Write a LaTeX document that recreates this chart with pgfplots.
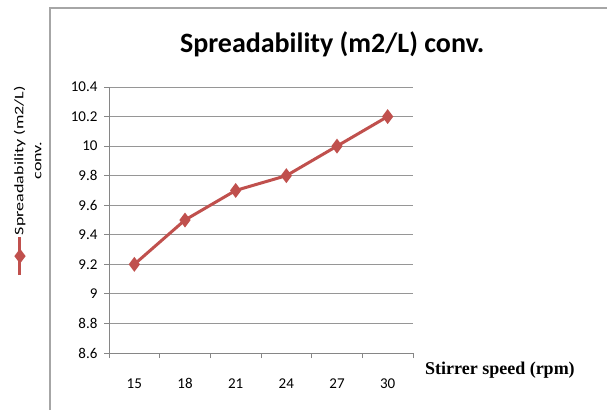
\documentclass[border=0pt]{standalone}
\usepackage{fontspec}
\setmainfont{Carlito}
\newfontfamily\timesfont{Liberation Serif}
\usepackage{pgfplots}
\pgfplotsset{compat=1.18}
\definecolor{serred}{HTML}{C0504D}
\definecolor{gridgray}{HTML}{969696}
\definecolor{axgray}{HTML}{868686}
\definecolor{framegray}{HTML}{A6A6A6}
\begin{document}
\begin{tikzpicture}[x=1pt,y=1pt]
\path[use as bounding box] (0,0) rectangle (607,410);
\draw[framegray, line width=1.5pt] (50,0) -- (50,402) -- (607,402);
\begin{axis}[
  at={(109pt,57pt)}, anchor=south west,
  scale only axis, width=304pt, height=266pt,
  xmin=-0.5, xmax=5.5, ymin=8.6, ymax=10.4,
  axis x line*=bottom, axis y line*=left,
  axis line style={-, axgray, line width=0.9pt},
  xtick={0,1,2,3,4,5},
  xticklabels={15,18,21,24,27,30},
  major x tick style={draw=none},
  minor xtick={-0.5,0.5,1.5,2.5,3.5,4.5,5.5},
  minor x tick style={axgray, line width=0.9pt},
  minor tick length=5pt,
  ytick={8.6,8.8,9,9.2,9.4,9.6,9.8,10,10.2,10.4},
  yticklabels={8.6,8.8,9,9.2,9.4,9.6,9.8,10,10.2,10.4},
  major y tick style={axgray, line width=0.9pt},
  major tick length=5pt,
  tick align=outside,
  ymajorgrids,
  grid style={gridgray, line width=0.9pt},
  ticklabel style={font=\fontsize{15}{17}\selectfont, text=black},
  xticklabel style={yshift=-17pt},
  yticklabel style={xshift=-3pt},
  title={\fontsize{28}{32}\selectfont\bfseries Spreadability (m2/L) conv.},
  title style={at={(0.734,1.139)}, anchor=center},
  xlabel={\timesfont\bfseries\fontsize{18}{20}\selectfont Stirrer speed (rpm)},
  xlabel style={at={(1.286,-0.064)}, anchor=center},
  legend style={at={(-0.3586,0.290)}, anchor=south west, draw=none, fill=none,
    inner sep=0pt, outer sep=0pt, nodes={inner sep=0pt, outer sep=0pt}},
  legend image code/.code={
    \pgfpathrectangle{\pgfpoint{-20pt}{0pt}}{\pgfpoint{50pt}{200pt}}\pgfusepath{use as bounding box}
    \draw[mark repeat=2, mark phase=2] plot coordinates {(0pt,0pt) (0pt,19pt) (0pt,38pt)};
    \node[rotate=90, anchor=west, inner sep=0pt, text=black] at (2pt,40pt)
      {\scalebox{1.39}[1]{\fontsize{13}{18}\selectfont\begin{tabular}{@{}c@{}}Spreadability (m2/L)\\conv.\end{tabular}}};
  },
]
\addplot[serred, line width=3pt, mark=diamond*, mark size=5pt, mark options={solid, fill=serred}]
  coordinates {(0,9.2) (1,9.5) (2,9.7) (3,9.8) (4,10.0) (5,10.2)};
\addlegendentry{}
\end{axis}
\end{tikzpicture}
\end{document}
